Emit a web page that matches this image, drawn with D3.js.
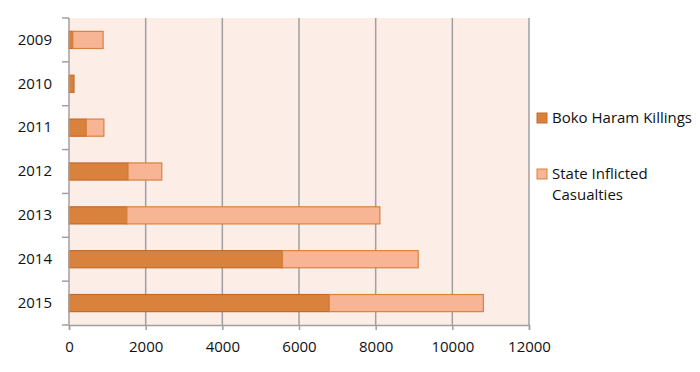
<!DOCTYPE html>
<html>
<head>
<meta charset="utf-8">
<script src="https://cdn.jsdelivr.net/npm/d3@7"></script>
<style>
  body { margin: 0; background: #fff; }
  svg text { font-family: "Open Sans", sans-serif; fill: #111; }
</style>
</head>
<body>
<div id="wrapper"></div>
<script>
const years = ['2009', '2010', '2011', '2012', '2013', '2014', '2015'];
const bokoHaram = [100, 130, 450, 1540, 1510, 5570, 6790];
const stateInflicted = [790, 0, 460, 880, 6600, 3540, 4020];
const xTicks = [0, 2000, 4000, 6000, 8000, 10000, 12000];
const seriesNames = ['Boko Haram Killings', 'State Inflicted Casualties'];

const dataset = years.map((y, i) => ({ year: y, boko: bokoHaram[i], state: stateInflicted[i] }));

let dimensions = {
    width: 700,
    height: 372,
    margin: { top: 18, right: 171, bottom: 47, left: 69 }
};
dimensions.boundWidth = dimensions.width - dimensions.margin.left - dimensions.margin.right;
dimensions.boundHeight = dimensions.height - dimensions.margin.top - dimensions.margin.bottom;

const colors = {
    boko: '#d9823e', bokoStroke: '#c46a28',
    state: '#f8b596', stateStroke: '#d9823e',
    bg: '#fcede7', grid: '#a0a0a0'
};
const fontSize = 15;

const wrapper = d3.select('#wrapper')
    .append('svg')
    .attr('width', dimensions.width)
    .attr('height', dimensions.height);

const bounds = wrapper.append('g')
    .attr('transform', `translate(${dimensions.margin.left}, ${dimensions.margin.top})`);

const xScale = d3.scaleLinear()
    .domain([0, 12000])
    .range([0, dimensions.boundWidth]);

const yScale = d3.scaleBand()
    .domain(years)
    .range([0, dimensions.boundHeight])
    .paddingInner(0.61)
    .paddingOuter(0.305);

// plot background
bounds.append('rect')
    .attr('width', dimensions.boundWidth)
    .attr('height', dimensions.boundHeight)
    .attr('fill', colors.bg);

// vertical gridlines
bounds.append('g')
    .selectAll('line')
    .data(xTicks.slice(1))
    .join('line')
    .attr('x1', d => xScale(d))
    .attr('x2', d => xScale(d))
    .attr('y1', 0)
    .attr('y2', dimensions.boundHeight)
    .attr('stroke', colors.grid)
    .attr('stroke-width', 1.5);

// bars
const rows = bounds.append('g')
    .selectAll('g')
    .data(dataset)
    .join('g')
    .attr('transform', d => `translate(0, ${yScale(d.year)})`);

rows.append('rect')
    .attr('x', xScale(0))
    .attr('width', d => xScale(d.boko) - xScale(0))
    .attr('height', yScale.bandwidth())
    .attr('fill', colors.boko)
    .attr('stroke', colors.bokoStroke)
    .attr('stroke-width', 1.2);

rows.filter(d => d.state > 0).append('rect')
    .attr('x', d => xScale(d.boko))
    .attr('width', d => xScale(d.boko + d.state) - xScale(d.boko))
    .attr('height', yScale.bandwidth())
    .attr('fill', colors.state)
    .attr('stroke', colors.stateStroke)
    .attr('stroke-width', 1.2);

// axes
const xAxisGenerator = d3.axisBottom(xScale)
    .tickValues(xTicks)
    .tickFormat(d3.format('d'))
    .tickSize(5)
    .tickPadding(11);

const xAxis = bounds.append('g')
    .attr('transform', `translate(0, ${dimensions.boundHeight})`)
    .call(xAxisGenerator);

const step = yScale.step();
const yAxisGenerator = d3.axisLeft(yScale)
    .tickSize(0)
    .tickPadding(17);

const yAxis = bounds.append('g')
    .call(yAxisGenerator);

// category separator ticks on the left axis
yAxis.append('g')
    .selectAll('line')
    .data(d3.range(years.length + 1))
    .join('line')
    .attr('x1', -7)
    .attr('x2', 0)
    .attr('y1', i => i * step)
    .attr('y2', i => i * step)
    .attr('stroke', colors.grid)
    .attr('stroke-width', 1.5);

[xAxis, yAxis].forEach(ax => {
    ax.select('.domain').attr('stroke', colors.grid).attr('stroke-width', 1.5);
    ax.selectAll('.tick line').attr('stroke', colors.grid).attr('stroke-width', 1.5);
    ax.selectAll('.tick text')
        .attr('font-size', fontSize)
        .attr('font-family', '"Open Sans", sans-serif')
        .attr('fill', '#111');
});
yAxis.select('.domain').attr('d', `M0,0V${dimensions.boundHeight}`);

// legend
const legend = wrapper.append('g')
    .attr('transform', 'translate(537, 0)');

const legendItems = [
    { lines: ['Boko Haram Killings'], fill: colors.boko, stroke: colors.bokoStroke, y: 118 },
    { lines: ['State Inflicted', 'Casualties'], fill: colors.state, stroke: colors.stateStroke, y: 174 }
];

legendItems.forEach(item => {
    const g = legend.append('g').attr('transform', `translate(0, ${item.y})`);
    g.append('rect')
        .attr('x', 0).attr('y', -5)
        .attr('width', 10).attr('height', 10)
        .attr('fill', item.fill)
        .attr('stroke', item.stroke)
        .attr('stroke-width', 1);
    g.append('text')
        .attr('font-size', fontSize)
        .selectAll('tspan')
        .data(item.lines)
        .join('tspan')
        .attr('x', 15)
        .attr('y', (d, j) => j * 21)
        .attr('dy', '0.35em')
        .text(d => d);
});
</script>
</body>
</html>
